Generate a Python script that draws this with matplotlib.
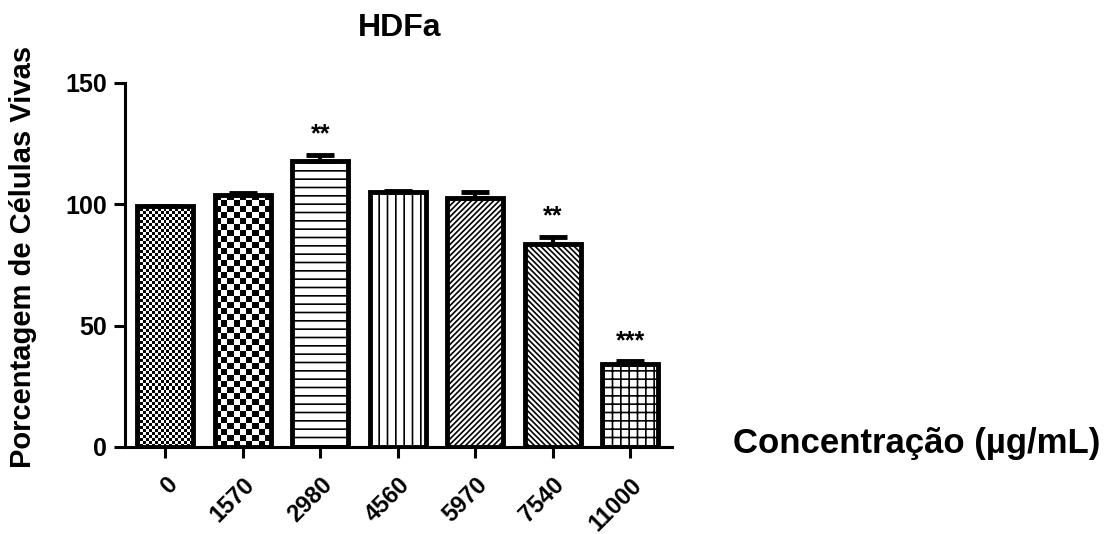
import numpy as np
import matplotlib
matplotlib.use("Agg")
import matplotlib.pyplot as plt

plt.rcParams["font.family"] = ["Liberation Sans", "DejaVu Sans"]
plt.rcParams["font.weight"] = "bold"
plt.rcParams["hatch.linewidth"] = 1.2

concentrations = ["0", "1570", "2980", "4560", "5970", "7540", "11000"]
viability = [99.5, 104.0, 118.0, 105.0, 102.5, 83.5, 34.0]
sem = [0.0, 0.6, 2.5, 0.3, 2.5, 3.0, 1.3]
stars = ["", "", "**", "", "", "**", "***"]
hatches = [None, None, "--", "||", "//////", "\\\\\\\\\\\\", "++"]
checker_px = [3, 6, 0, 0, 0, 0, 0]   # checkerboard square size (pixels) for the first two bars

fig = plt.figure(figsize=(11.15, 5.34), dpi=100)
ax = fig.add_axes([125 / 1115, 87 / 534, 547 / 1115, 364 / 534])

x = np.arange(len(concentrations))
width = 0.72
faces = ["none" if sq else "white" for sq in checker_px]
bars = ax.bar(x, viability, width=width, color=faces, edgecolor="black",
              linewidth=3.5, hatch=hatches, zorder=2)
ax.errorbar(x, viability, yerr=[np.zeros(len(sem)), sem], fmt="none",
            ecolor="black", elinewidth=3, capsize=10, capthick=3.5, zorder=3)

# checkerboard fills drawn as images clipped to the bar shape
px_per_unit = 364 / 150
px_per_x = 77.5
for bar, sq, h in zip(bars, checker_px, viability):
    if not sq:
        continue
    ncols = max(1, int(round(width * px_per_x / sq)))
    nrows = max(1, int(round(h * px_per_unit / sq)))
    pattern = (np.add.outer(np.arange(nrows), np.arange(ncols)) % 2).astype(float)
    x0 = bar.get_x()
    im = ax.imshow(pattern, cmap="gray", extent=(x0, x0 + width, 0, h),
                   aspect="auto", interpolation="nearest", zorder=1.5)
    im.set_clip_path(bar)

for xi, h, e, s in zip(x, viability, sem, stars):
    if s:
        ax.text(xi, h + e + 5.5, s, ha="center", va="baseline", fontsize=18,
                fontweight="bold")

ax.set_xlim(-0.52, len(x) - 0.46)
ax.set_ylim(0, 150)
ax.set_yticks([0, 50, 100, 150])
ax.set_xticks(x)
ax.set_xticklabels(concentrations, rotation=45, ha="right", rotation_mode="anchor",
                   fontsize=17, fontweight="bold")
for lab in ax.get_yticklabels():
    lab.set_fontsize(18)
    lab.set_fontweight("bold")
ax.tick_params(axis="both", direction="out", length=8, width=2.2, color="black")
ax.tick_params(axis="x", pad=11)
ax.tick_params(axis="y", pad=5)
for side in ["top", "right"]:
    ax.spines[side].set_visible(False)
for side in ["left", "bottom"]:
    ax.spines[side].set_linewidth(2.2)

fig.text(400 / 1115, 1 - 28 / 534, "HDFa", fontsize=23, fontweight="bold",
         ha="center", va="center")
fig.text(23 / 1115, 1 - 257 / 534, "Porcentagem de Células Vivas", fontsize=21,
         fontweight="bold", rotation=90, ha="center", va="center")
fig.text(733 / 1115, 1 - 443 / 534, "Concentração (µg/mL)", fontsize=25,
         fontweight="bold", va="center", ha="left")

fig.savefig("out.png", dpi=100)
